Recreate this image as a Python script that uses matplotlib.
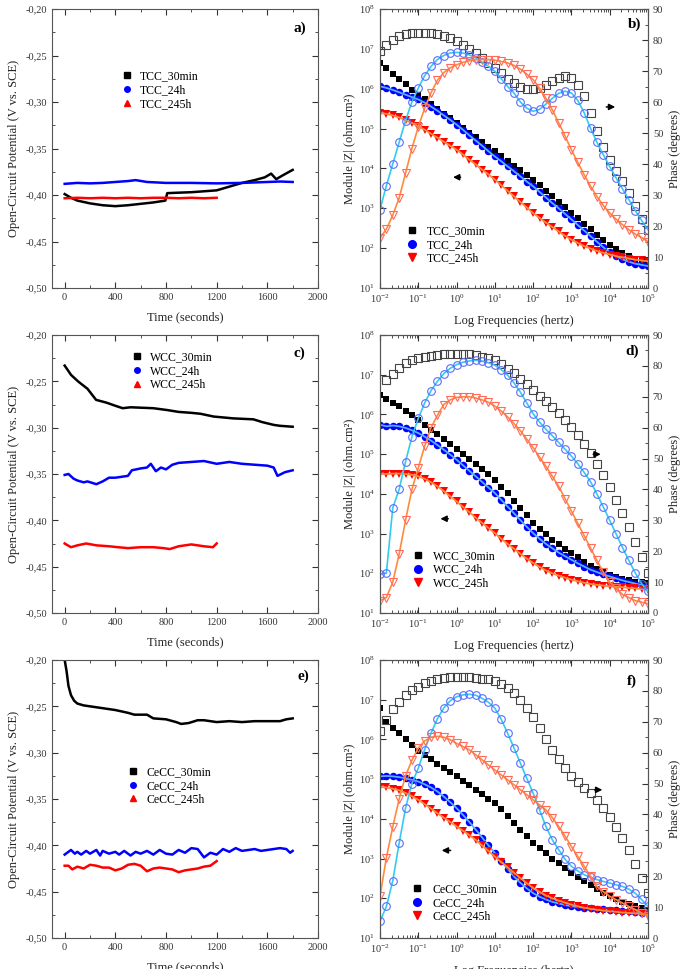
#Bibliotecas utilizadas.
import matplotlib
matplotlib.use("Agg")
import matplotlib.pyplot as plt
import matplotlib.ticker as mticker
from matplotlib.lines import Line2D
import numpy as np

plt.rcParams['font.family'] = ['Liberation Serif', 'DejaVu Serif']
plt.rcParams['mathtext.fontset'] = 'stix'

#Dados OCP (tempo em segundos, potencial em V vs. SCE).
a_t_30 = [0, 50, 100, 200, 300, 400, 500, 600, 700, 795, 810, 900, 1000, 1100, 1200, 1300, 1400, 1500, 1580, 1630, 1670, 1720, 1800]
a_v_30 = [-0.399, -0.403, -0.406, -0.409, -0.411, -0.412, -0.411, -0.4095, -0.408, -0.406, -0.398, -0.3975, -0.397, -0.396, -0.395, -0.391, -0.387, -0.384, -0.381, -0.377, -0.383, -0.379, -0.373]
a_t_24 = [0, 100, 200, 300, 400, 500, 560, 650, 800, 1000, 1200, 1400, 1600, 1700, 1800]
a_v_24 = [-0.388, -0.387, -0.3875, -0.387, -0.386, -0.385, -0.384, -0.386, -0.387, -0.387, -0.3875, -0.387, -0.386, -0.3855, -0.386]
a_t_245 = [0, 100, 200, 300, 400, 500, 600, 700, 800, 900, 1000, 1100, 1200]
a_v_245 = [-0.4035, -0.403, -0.4035, -0.403, -0.4035, -0.403, -0.4035, -0.403, -0.403, -0.4035, -0.403, -0.4035, -0.403]

c_t_30 = [0, 50, 105, 180, 248, 330, 392, 458, 520, 700, 810, 900, 1000, 1072, 1176, 1333, 1490, 1560, 1650, 1700, 1800]
c_v_30 = [-0.233, -0.243, -0.250, -0.258, -0.270, -0.273, -0.276, -0.279, -0.278, -0.279, -0.281, -0.283, -0.284, -0.285, -0.288, -0.290, -0.291, -0.294, -0.297, -0.298, -0.299]
c_t_24 = [0, 30, 70, 100, 150, 180, 250, 300, 350, 400, 450, 500, 530, 600, 650, 680, 720, 760, 800, 850, 900, 1000, 1100, 1200, 1300, 1400, 1500, 1600, 1650, 1680, 1740, 1800]
c_v_24 = [-0.351, -0.350, -0.355, -0.357, -0.359, -0.358, -0.361, -0.358, -0.354, -0.354, -0.353, -0.352, -0.346, -0.344, -0.343, -0.339, -0.347, -0.343, -0.345, -0.340, -0.338, -0.337, -0.336, -0.339, -0.337, -0.339, -0.340, -0.341, -0.343, -0.352, -0.348, -0.346]
c_t_245 = [0, 50, 100, 170, 250, 350, 420, 500, 600, 700, 780, 830, 900, 1000, 1100, 1170, 1200]
c_v_245 = [-0.425, -0.429, -0.427, -0.425, -0.427, -0.428, -0.429, -0.430, -0.429, -0.429, -0.430, -0.431, -0.428, -0.426, -0.428, -0.429, -0.425]

e_t_30 = [0, 15, 30, 50, 75, 100, 150, 200, 300, 400, 500, 550, 650, 700, 800, 880, 920, 980, 1050, 1100, 1200, 1300, 1400, 1500, 1600, 1700, 1750, 1800]
e_v_30 = [-0.200, -0.212, -0.228, -0.238, -0.244, -0.247, -0.249, -0.250, -0.252, -0.254, -0.257, -0.259, -0.259, -0.263, -0.264, -0.267, -0.269, -0.268, -0.265, -0.265, -0.267, -0.266, -0.267, -0.266, -0.266, -0.266, -0.264, -0.263]
e_t_24 = [0, 50, 80, 100, 130, 170, 200, 250, 280, 300, 350, 400, 430, 470, 520, 560, 600, 650, 700, 750, 800, 850, 900, 950, 1000, 1050, 1100, 1150, 1200, 1250, 1300, 1350, 1400, 1450, 1500, 1550, 1600, 1650, 1700, 1750, 1780, 1800]
e_v_24 = [-0.410, -0.405, -0.409, -0.407, -0.410, -0.406, -0.409, -0.405, -0.411, -0.406, -0.409, -0.407, -0.410, -0.406, -0.411, -0.407, -0.409, -0.406, -0.410, -0.405, -0.409, -0.410, -0.405, -0.408, -0.403, -0.404, -0.413, -0.408, -0.410, -0.404, -0.407, -0.403, -0.406, -0.405, -0.404, -0.406, -0.405, -0.404, -0.403, -0.404, -0.408, -0.406]
e_t_245 = [0, 30, 60, 100, 150, 200, 250, 300, 350, 400, 450, 500, 550, 600, 650, 700, 750, 800, 850, 900, 950, 1000, 1050, 1100, 1150, 1200]
e_v_245 = [-0.422, -0.422, -0.426, -0.423, -0.425, -0.421, -0.422, -0.424, -0.424, -0.427, -0.425, -0.421, -0.420, -0.422, -0.428, -0.425, -0.424, -0.425, -0.426, -0.429, -0.427, -0.426, -0.425, -0.423, -0.422, -0.417]

#Dados EIS: frequencias de 10^-2 a 10^5 hertz, 6 pontos por decada.
freq = 10 ** (np.arange(43) / 6 - 2)

#log10 |Z| (ohm.cm2)
b_mod_30 = [6.65, 6.52, 6.38, 6.25, 6.12, 5.98, 5.85, 5.73, 5.61, 5.49, 5.37, 5.26, 5.14, 5.02, 4.90, 4.78, 4.67, 4.55, 4.43, 4.31, 4.19, 4.07, 3.95, 3.84, 3.72, 3.58, 3.44, 3.30, 3.16, 3.02, 2.88, 2.75, 2.61, 2.47, 2.34, 2.21, 2.09, 1.98, 1.88, 1.80, 1.74, 1.69, 1.65]
b_mod_24 = [6.06, 6.02, 5.97, 5.91, 5.85, 5.79, 5.73, 5.65, 5.55, 5.45, 5.33, 5.22, 5.10, 4.97, 4.83, 4.70, 4.57, 4.43, 4.30, 4.18, 4.05, 3.93, 3.80, 3.67, 3.55, 3.41, 3.27, 3.13, 3.00, 2.86, 2.72, 2.58, 2.44, 2.30, 2.16, 2.02, 1.90, 1.80, 1.72, 1.66, 1.61, 1.58, 1.55]
b_mod_245 = [5.39, 5.37, 5.33, 5.28, 5.21, 5.14, 5.06, 4.97, 4.87, 4.77, 4.67, 4.57, 4.47, 4.35, 4.22, 4.10, 3.97, 3.85, 3.72, 3.58, 3.44, 3.30, 3.16, 3.02, 2.88, 2.76, 2.64, 2.53, 2.42, 2.31, 2.21, 2.13, 2.05, 1.99, 1.93, 1.88, 1.84, 1.80, 1.77, 1.74, 1.71, 1.69, 1.67]
d_mod_30 = [6.49, 6.40, 6.30, 6.20, 6.09, 5.98, 5.86, 5.74, 5.62, 5.50, 5.38, 5.26, 5.14, 5.01, 4.88, 4.75, 4.62, 4.49, 4.35, 4.18, 4.01, 3.83, 3.65, 3.46, 3.26, 3.12, 2.98, 2.85, 2.73, 2.62, 2.51, 2.40, 2.29, 2.19, 2.10, 2.02, 1.96, 1.90, 1.86, 1.82, 1.79, 1.77, 1.76]
d_mod_24 = [5.74, 5.70, 5.72, 5.70, 5.66, 5.60, 5.53, 5.44, 5.34, 5.23, 5.11, 4.99, 4.86, 4.72, 4.58, 4.44, 4.30, 4.16, 4.02, 3.85, 3.68, 3.51, 3.34, 3.17, 3.01, 2.87, 2.74, 2.63, 2.52, 2.43, 2.34, 2.25, 2.17, 2.09, 2.03, 1.97, 1.92, 1.87, 1.82, 1.78, 1.74, 1.70, 1.67]
d_mod_245 = [4.50, 4.50, 4.51, 4.51, 4.50, 4.48, 4.44, 4.38, 4.29, 4.19, 4.07, 3.94, 3.81, 3.67, 3.54, 3.40, 3.27, 3.14, 3.01, 2.87, 2.74, 2.62, 2.49, 2.37, 2.26, 2.16, 2.07, 2.00, 1.94, 1.89, 1.84, 1.80, 1.76, 1.73, 1.71, 1.69, 1.67, 1.66, 1.65, 1.63, 1.62, 1.60, 1.59]
f_mod_30 = [6.78, 6.45, 6.30, 6.16, 6.01, 5.87, 5.72, 5.61, 5.50, 5.39, 5.28, 5.17, 5.07, 4.96, 4.85, 4.73, 4.62, 4.51, 4.40, 4.24, 4.07, 3.90, 3.73, 3.56, 3.39, 3.26, 3.13, 3.00, 2.88, 2.76, 2.64, 2.54, 2.44, 2.34, 2.24, 2.14, 2.05, 1.98, 1.91, 1.85, 1.80, 1.75, 1.71]
f_mod_24 = [5.07, 5.08, 5.07, 5.05, 5.02, 4.98, 4.94, 4.87, 4.79, 4.69, 4.56, 4.42, 4.27, 4.10, 3.92, 3.73, 3.53, 3.33, 3.14, 2.94, 2.74, 2.55, 2.39, 2.25, 2.13, 2.04, 1.97, 1.91, 1.87, 1.83, 1.80, 1.78, 1.76, 1.75, 1.74, 1.72, 1.71, 1.70, 1.69, 1.67, 1.66, 1.64, 1.63]
f_mod_245 = [4.81, 4.79, 4.76, 4.72, 4.65, 4.57, 4.48, 4.37, 4.26, 4.14, 4.03, 3.92, 3.81, 3.70, 3.59, 3.47, 3.33, 3.19, 3.05, 2.91, 2.78, 2.64, 2.51, 2.38, 2.26, 2.16, 2.07, 2.00, 1.94, 1.89, 1.84, 1.80, 1.76, 1.73, 1.71, 1.69, 1.67, 1.66, 1.64, 1.63, 1.62, 1.60, 1.59]

#Fase (graus)
b_fase_30 = [76.3, 78.5, 80.0, 81.2, 82.0, 82.3, 82.4, 82.4, 82.3, 82.0, 81.3, 80.5, 79.6, 78.5, 77.2, 75.8, 74.2, 72.6, 71.0, 69.2, 67.5, 66.1, 65.0, 64.3, 64.1, 64.6, 65.6, 66.7, 67.8, 68.3, 67.8, 65.5, 62.0, 56.5, 50.5, 45.5, 41.4, 37.8, 34.5, 30.6, 26.3, 22.3, 18.8]
b_fase_24 = [25.3, 33.0, 40.0, 47.0, 54.0, 60.0, 64.5, 68.5, 71.5, 73.7, 75.0, 75.8, 76.0, 75.8, 75.2, 74.2, 72.8, 71.5, 69.9, 67.5, 65.0, 62.9, 60.0, 58.0, 57.0, 57.6, 59.3, 61.2, 62.8, 63.5, 62.9, 60.5, 56.5, 51.5, 47.0, 43.0, 39.2, 35.5, 32.0, 28.5, 25.0, 21.8, 18.8]
b_fase_245 = [16.1, 19.0, 23.5, 29.0, 37.0, 45.0, 52.0, 58.0, 63.0, 67.0, 69.5, 71.0, 72.0, 72.8, 73.3, 73.6, 73.7, 73.7, 73.5, 73.1, 72.6, 71.8, 70.6, 69.0, 67.2, 64.5, 61.2, 57.5, 53.3, 49.0, 44.6, 40.5, 36.5, 32.8, 29.5, 26.6, 24.2, 22.2, 20.4, 18.8, 17.4, 16.3, 15.0]
d_fase_30 = [np.nan, 75.5, 77.5, 79.2, 80.8, 81.8, 82.4, 83.0, 83.3, 83.5, 83.7, 83.8, 83.8, 83.8, 83.7, 83.5, 83.0, 82.5, 81.9, 80.5, 79.0, 77.6, 75.8, 74.0, 72.2, 70.4, 68.6, 66.8, 64.6, 62.5, 60.3, 57.5, 54.6, 51.7, 48.3, 44.6, 40.9, 36.6, 32.3, 28.0, 23.0, 18.0, 12.9]
d_fase_24 = [12.5, 13.0, 34.0, 40.0, 49.0, 57.0, 63.0, 68.0, 72.0, 75.0, 77.5, 79.2, 80.4, 81.2, 81.6, 81.8, 81.6, 81.0, 80.2, 78.8, 77.0, 74.5, 71.5, 68.0, 64.5, 61.8, 59.5, 57.4, 55.2, 53.0, 50.8, 48.3, 45.5, 42.5, 38.5, 34.3, 30.0, 25.6, 21.2, 17.0, 13.0, 9.5, 7.0]
d_fase_245 = [4.0, 5.0, 10.0, 19.0, 30.0, 40.0, 47.0, 54.0, 60.0, 64.0, 67.5, 69.0, 69.8, 70.0, 70.0, 69.6, 69.0, 68.2, 67.0, 65.4, 63.5, 61.3, 59.0, 56.3, 53.5, 50.5, 47.5, 44.3, 41.0, 37.0, 33.0, 29.0, 25.0, 21.0, 17.0, 13.2, 10.0, 8.0, 6.0, 5.0, 4.0, 3.5, 3.0]
f_fase_30 = [67.0, 70.5, 74.0, 76.5, 78.7, 80.3, 81.4, 82.5, 83.3, 83.8, 84.2, 84.5, 84.6, 84.6, 84.5, 84.3, 84.0, 83.7, 83.3, 82.2, 80.8, 79.2, 77.0, 74.5, 71.7, 68.0, 64.3, 60.9, 57.8, 55.0, 52.3, 50.4, 48.6, 46.9, 44.6, 42.0, 39.3, 36.0, 32.4, 28.6, 24.0, 19.5, 14.5]
f_fase_24 = [5.4, 10.2, 18.5, 30.7, 42.0, 50.0, 55.0, 61.0, 66.3, 71.0, 74.5, 76.8, 78.1, 78.7, 78.9, 78.6, 77.6, 76.3, 74.4, 70.8, 66.3, 61.5, 56.6, 51.7, 46.9, 41.5, 36.1, 31.8, 28.6, 25.5, 23.2, 21.7, 20.5, 19.6, 18.9, 18.3, 17.8, 17.2, 16.7, 15.8, 14.5, 12.5, 10.2]
f_fase_245 = [13.5, 26.0, 36.0, 45.0, 52.5, 57.5, 61.5, 63.8, 65.0, 65.3, 65.0, 64.2, 63.0, 62.0, 60.9, 59.3, 57.7, 56.0, 54.4, 52.8, 51.2, 49.6, 48.0, 46.4, 44.7, 43.1, 41.5, 39.0, 36.1, 33.0, 29.6, 26.4, 23.2, 20.0, 16.7, 15.0, 13.5, 12.4, 11.3, 10.2, 9.2, 8.1, 7.0]

cores = ["black", "#0000ff", "#ff0000"]
marcadores_ocp = ["s", "o", "^"]


def caixa(x0, y0, x1, y1):
    #Converte pixels (691x969) em fracao da figura.
    return [x0 / 691, 1 - y1 / 969, (x1 - x0) / 691, (y1 - y0) / 969]


def virgula(v, pos):
    return f"{v:.2f}".replace(".", ",")


def painel_ocp(fig, pos, series, rotulos, letra, pos_letra, ancora):
    ax = fig.add_axes(pos)
    for (t, v), cor in zip(series, cores):
        ax.plot(t, v, color=cor, lw=1.8)
    ax.set_xlim(-100, 2000)
    ax.set_ylim(-0.50, -0.20)
    ax.xaxis.set_major_locator(mticker.MultipleLocator(400))
    ax.xaxis.set_minor_locator(mticker.MultipleLocator(200))
    ax.yaxis.set_major_locator(mticker.MultipleLocator(0.05))
    ax.yaxis.set_minor_locator(mticker.MultipleLocator(0.025))
    ax.yaxis.set_major_formatter(mticker.FuncFormatter(virgula))
    ax.tick_params(which="both", direction="in", top=True, right=True, labelsize=7.5, colors="#333333")
    ax.tick_params(which="major", length=4)
    ax.tick_params(which="minor", length=2)
    for s in ax.spines.values():
        s.set_color("#555555")
    ax.set_xlabel("Time (seconds)", fontsize=9, color="#222222", labelpad=7)
    ax.set_ylabel("Open-Circuit Potential (V vs. SCE)", fontsize=9, color="#222222")
    ax.text(pos_letra[0], pos_letra[1], letra, transform=ax.transAxes, fontsize=11,
            fontweight="bold", ha="center", va="center")
    alcas = [Line2D([], [], ls="none", marker=m, color=c, ms=4) for m, c in zip(marcadores_ocp, cores)]
    ax.legend(alcas, rotulos, loc="upper left", bbox_to_anchor=ancora, frameon=False,
              fontsize=8.5, handlelength=1.0, handletextpad=0.6, labelspacing=0.15,
              borderpad=0, borderaxespad=0)


def painel_bode(fig, pos, mods, fases, rotulos, letra, pos_letra, ancora, setas):
    ax = fig.add_axes(pos)
    ax.set_xscale("log")
    ax.set_yscale("log")
    m30, m24, m245 = [10 ** np.array(m) for m in mods]
    ax.plot(freq, m30, "s", color="black", ms=5, mew=0)
    ax.plot(freq, m24, "o", color="#0000ff", ms=5.4, mew=0)
    ax.plot(freq, m24, "-", color="#55b0ff", lw=1.3)
    ax.plot(freq, m245, "v", color="#ff0000", ms=5.8, mew=0)
    ax.plot(freq, m245, "-", color="#ff8a3a", lw=1.3)
    ax.set_xlim(1e-2, 1e5)
    ax.set_ylim(1e1, 1e8)
    ax.xaxis.set_major_locator(mticker.LogLocator(base=10, numticks=20))
    ax.xaxis.set_minor_locator(mticker.LogLocator(base=10, subs=np.arange(2, 10), numticks=20))
    ax.xaxis.set_minor_formatter(mticker.NullFormatter())
    ax.yaxis.set_major_locator(mticker.LogLocator(base=10, numticks=20))
    ax.yaxis.set_minor_locator(mticker.NullLocator())
    ax.tick_params(which="both", direction="in", top=True, right=False, labelsize=7.5, colors="#333333")
    ax.tick_params(which="major", length=4)
    ax.tick_params(which="minor", length=2)
    for s in ax.spines.values():
        s.set_color("#555555")
    ax.set_xlabel("Log Frequencies (hertz)", fontsize=9, color="#222222", labelpad=7)
    ax.set_ylabel("Module |Z| (ohm.cm²)", fontsize=9, color="#222222", labelpad=2)

    ax2 = ax.twinx()
    f30, f24, f245 = fases
    ax2.plot(freq, f30, "s", mfc="none", mec="#444444", ms=5.5, mew=0.8)
    ax2.plot(freq, f24, "-", color="#33ccee", lw=1.2)
    ax2.plot(freq, f24, "o", mfc="none", mec="#5a6cff", ms=5.5, mew=0.8)
    ax2.plot(freq, f245, "-", color="#ff8a3a", lw=1.2)
    ax2.plot(freq, f245, "v", mfc="none", mec="#ff6a5a", ms=6, mew=0.8)
    ax2.set_ylim(0, 90)
    ax2.yaxis.set_major_locator(mticker.MultipleLocator(10))
    ax2.yaxis.set_minor_locator(mticker.MultipleLocator(5))
    ax2.tick_params(which="both", direction="in", labelsize=7.5, colors="#333333")
    ax2.tick_params(which="major", length=4)
    ax2.tick_params(which="minor", length=2)
    for s in ax2.spines.values():
        s.set_color("#555555")
    ax2.set_ylabel("Phase (degrees)", fontsize=9, color="#222222")

    for x0, x1, y in setas:
        ax2.annotate("", xy=(x1, y), xytext=(x0, y), xycoords="axes fraction",
                     arrowprops=dict(arrowstyle="-|>", color="black", lw=1.1, mutation_scale=9))
    ax2.text(pos_letra[0], pos_letra[1], letra, transform=ax2.transAxes, fontsize=11,
             fontweight="bold", ha="center", va="center")
    alcas = [Line2D([], [], ls="none", marker="s", color="black", ms=5),
             Line2D([], [], ls="none", marker="o", color="#0000ff", ms=5.5),
             Line2D([], [], ls="none", marker="v", color="#ff0000", ms=6)]
    ax2.legend(alcas, rotulos, loc="upper left", bbox_to_anchor=ancora, frameon=False,
               fontsize=8.5, handlelength=1.0, handletextpad=0.8, labelspacing=0.15,
               borderpad=0, borderaxespad=0)


fig = plt.figure(figsize=(6.91, 9.69), dpi=100)

painel_ocp(fig, caixa(52, 9, 318, 288),
           [(a_t_30, a_v_30), (a_t_24, a_v_24), (a_t_245, a_v_245)],
           ["TCC_30min", "TCC_24h", "TCC_245h"], "a)", (0.93, 0.93), (0.26, 0.78))
painel_ocp(fig, caixa(52, 335, 318, 613),
           [(c_t_30, c_v_30), (c_t_24, c_v_24), (c_t_245, c_v_245)],
           ["WCC_30min", "WCC_24h", "WCC_245h"], "c)", (0.93, 0.934), (0.298, 0.942))
painel_ocp(fig, caixa(52, 660, 318, 938),
           [(e_t_30, e_v_30), (e_t_24, e_v_24), (e_t_245, e_v_245)],
           ["CeCC_30min", "CeCC_24h", "CeCC_245h"], "e)", (0.944, 0.94), (0.283, 0.619))

painel_bode(fig, caixa(380, 9, 648, 288),
            [b_mod_30, b_mod_24, b_mod_245], [b_fase_30, b_fase_24, b_fase_245],
            ["TCC_30min", "TCC_24h", "TCC_245h"], "b)", (0.95, 0.944), (0.097, 0.226),
            [(0.834, 0.888, 0.649), (0.311, 0.262, 0.397)])
painel_bode(fig, caixa(380, 335, 648, 613),
            [d_mod_30, d_mod_24, d_mod_245], [d_fase_30, d_fase_24, d_fase_245],
            ["WCC_30min", "WCC_24h", "WCC_245h"], "d)", (0.94, 0.94), (0.12, 0.227),
            [(0.785, 0.834, 0.571), (0.265, 0.215, 0.339)])
painel_bode(fig, caixa(380, 660, 648, 938),
            [f_mod_30, f_mod_24, f_mod_245], [f_fase_30, f_fase_24, f_fase_245],
            ["CeCC_30min", "CeCC_24h", "CeCC_245h"], "f)", (0.94, 0.922), (0.116, 0.198),
            [(0.79, 0.84, 0.533), (0.274, 0.22, 0.315)])

fig.savefig("out.png", dpi=100)
